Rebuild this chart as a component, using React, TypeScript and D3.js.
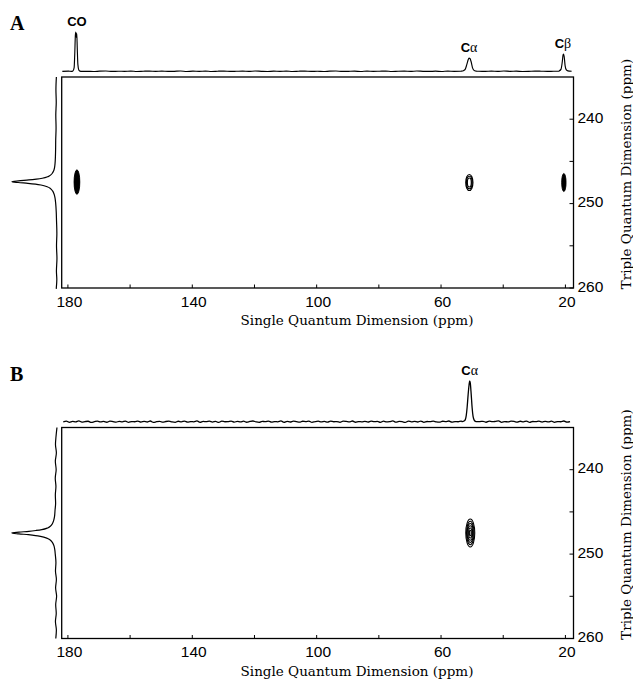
import React from "react";
import * as d3 from "d3";

// ---------- axes ----------
const sqTicks = [180, 160, 140, 120, 100, 80, 60, 40, 20];
const sqTickLabels = [180, 140, 100, 60, 20];
const tqTicks = [240, 245, 250, 255, 260];
const tqTickLabels = [240, 250, 260];
const sqDomain: [number, number] = [182, 17.4];
const tqDomain: [number, number] = [235, 260];

// ---------- top projection A ----------
// baseline samples on a 2 ppm grid starting at 181.8 ppm
const topNoiseStartA = 181.8;
const topNoiseStepA = 2;
const topNoiseA = [
  0.3, 0.9, 0.1, 1.1, 0.5, 0.0, 0.8, 1.2, 0.2, 0.7, 0.4, 1.0, 0.0, 0.6, 1.1, 0.3, 0.9, 0.2, 0.5, 1.2,
  0.1, 0.8, 0.4, 1.0, 0.0, 0.7, 1.1, 0.3, 0.6, 0.9, 0.2, 1.2, 0.5, 0.0, 0.8, 0.4, 1.0, 0.1, 0.7, 1.1,
  0.3, 0.6, 0.0, 0.9, 1.2, 0.2, 0.5, 0.8, 0.1, 1.0, 0.4, 0.7, 1.1, 0.0, 0.6, 0.9, 0.3, 1.2, 0.5, 0.2,
  0.8, 0.1, 1.0, 0.4, 0.7, 0.0, 1.1, 0.6, 0.3, 0.9, 0.2, 1.2, 0.5, 0.8, 0.1, 0.4, 1.0, 0.7, 0.3, 0.6,
  0.2, 0.5,
];
// peaks: [ppm, intensity]
const topPeaksA: [number, number][] = [
  [178.9, 0.4], [178.4, 1.5], [178.0, 10], [177.8, 45], [177.6, 92], [177.45, 100], [177.3, 86],
  [177.15, 96], [177.0, 60], [176.8, 18], [176.5, 4], [176.1, 1], [175.6, 0.4],
  [53.4, 0.8], [52.8, 2], [52.2, 6], [51.7, 18], [51.3, 29], [51.0, 34], [50.7, 33], [50.3, 24],
  [49.9, 10], [49.4, 3], [48.8, 1], [48.4, 0.6],
  [22.4, 0.7], [22.0, 1.5], [21.4, 6], [21.0, 25], [20.75, 42], [20.6, 44], [20.4, 38], [20.1, 15],
  [19.7, 4], [19.2, 1.5], [18.6, 1], [18.0, 0.5],
];

// ---------- top projection B ----------
// baseline samples on a 1 ppm grid starting at 181.5 ppm
const topNoiseStartB = 181.5;
const topNoiseStepB = 1;
const topNoiseB = [
  0.5, 2.1, -0.8, 1.4, 0.2, 2.6, -0.3, 1.0, 1.9, -1.1, 0.7, 2.3, 0.1, 1.5, -0.6, 2.0, 0.9, -0.4, 1.7, 0.3,
  2.4, -0.9, 1.2, 0.6, 2.2, -0.2, 1.6, 0.0, 2.5, -1.0, 0.8, 1.8, -0.5, 1.3, 2.1, 0.2, -0.7, 1.9, 0.5, 2.3,
  -0.3, 1.1, 0.4, 2.6, -0.8, 1.5, 0.9, 2.0, -0.1, 1.4, -1.2, 2.2, 0.6, 1.0, 2.4, -0.4, 1.7, 0.1, 2.0, -0.6,
  1.3, 2.5, 0.3, -0.9, 1.8, 0.7, 2.1, -0.2, 1.2, 0.5, 2.6, -0.7, 1.6, 0.0, 2.3, 0.8, -0.5, 1.9, 1.1, 2.2,
  -1.0, 0.9, 2.0, 0.2, 1.5, -0.3, 2.4, 0.6, 1.0, -0.8, 2.1, 1.4, 0.1, 2.5, -0.6, 1.2, 0.4, 1.8, -0.2, 2.3,
  0.7, 1.6, -0.9, 2.0, 0.3, 1.1, 2.6, -0.4, 1.4, 0.8, -1.1, 2.2, 0.5, 1.7, 0.0, 2.4, -0.7, 1.3, 0.9, 2.1,
  0.2, -0.5, 1.9, 1.0, 2.5, -0.3, 1.2, 0.6, 2.0, -0.9, 1.5, 0.4, 2.3, -0.1, 1.1, 1.8, -0.6, 2.2, 0.7, 1.4,
  2.6, -0.8, 1.0, 0.3, 2.1, 1.5, -0.4, 1.9, 0.5, 2.4, -1.0, 1.3, 0.8, 2.0, -0.2, 1.6,
  0.1, 2.2, -0.7, 1.2, 0.6, 2.5, -0.3, 1.0,
];
const topPeaksB: [number, number][] = [
  [53.2, 1.2], [52.6, 2.5], [52.2, 6], [51.9, 16], [51.6, 38], [51.3, 68], [51.0, 93], [50.8, 104],
  [50.6, 99], [50.3, 70], [50.0, 36], [49.7, 14], [49.3, 4], [48.9, 1.5], [48.6, 0.8],
];

// ---------- left (triple quantum) projections: [ppm, intensity] ----------
const leftSpectrumA: [number, number][] = [
  [235, 0.5], [236.5, 1.5], [238, 0.8], [239.5, 1.8], [241, 1.2], [242.5, 2.0], [243.5, 2.2], [244.4, 2.6],
  [245.2, 3.4], [245.7, 4.5], [246.1, 6.5], [246.4, 9.5], [246.6, 13], [246.8, 19], [247.0, 32], [247.1, 45],
  [247.2, 62], [247.3, 85], [247.4, 100], [247.5, 86], [247.6, 64], [247.7, 47], [247.8, 35], [248.0, 21],
  [248.2, 14], [248.5, 9], [248.9, 5.5], [249.4, 3.3], [250, 2], [251, 0.8], [252, 0.2], [253.5, -0.6],
  [255, 0.2], [256.5, -0.8], [258, 0.4], [259, -0.5], [260.1, 0.8],
];
const leftSpectrumB: [number, number][] = [
  [235, -0.8], [236, 1.2], [237, 2.5], [238, 0.5], [239, 2.8], [240, 1], [241, 3], [242, 1.5], [243, 2.8],
  [244, 2.2], [244.8, 3.5], [245.5, 4.5], [246, 6.5], [246.4, 9.5], [246.7, 14], [246.9, 20], [247.1, 33],
  [247.2, 46], [247.3, 62], [247.4, 84], [247.5, 100], [247.6, 84], [247.7, 63], [247.8, 47], [247.9, 36],
  [248.1, 22], [248.3, 15], [248.6, 9.5], [249, 6], [249.5, 4], [250, 3], [251, 1.5], [252, 2.5], [253, 0.5],
  [254, 2.2], [255, 0], [256, 2], [257, 0.8], [258, 2.6], [259, 0.5], [260, 1.8],
];

// ---------- 2D cross peaks ----------
type Contour = {
  sq: number;
  tq: number;
  rx: number;
  ry: number;
  levels: number[];
  filled: boolean;
  weight: number;
};
const contoursA: Contour[] = [
  { sq: 177.1, tq: 247.45, rx: 0.92, ry: 1.45, levels: [1, 0.8, 0.6, 0.4, 0.2], filled: true, weight: 0.9 },
  { sq: 50.9, tq: 247.5, rx: 1.15, ry: 0.95, levels: [1, 0.78, 0.56], filled: false, weight: 1.2 },
  { sq: 20.5, tq: 247.5, rx: 0.7, ry: 1.07, levels: [1, 0.65, 0.3], filled: true, weight: 0.9 },
];
const contoursB: Contour[] = [
  { sq: 50.6, tq: 247.5, rx: 1.45, ry: 1.65, levels: [1, 0.84, 0.68, 0.52, 0.36, 0.2], filled: false, weight: 1.05 },
];

type PeakLabel = { ppm: number; intensity: number; main: string; greek: string };
const labelsA: PeakLabel[] = [
  { ppm: 177.1, intensity: 100, main: "CO", greek: "" },
  { ppm: 51.0, intensity: 34, main: "C", greek: "α" },
  { ppm: 20.8, intensity: 44, main: "C", greek: "β" },
];
const labelsB: PeakLabel[] = [{ ppm: 50.8, intensity: 104, main: "C", greek: "α" }];

const SANS = "'Liberation Sans', Arial, Helvetica, sans-serif";
const SERIF = "'DejaVu Serif', serif";

function buildSpectrum(
  noise: number[],
  start: number,
  step: number,
  peaks: [number, number][],
  gaps: [number, number][]
): [number, number][] {
  const base: [number, number][] = noise
    .map((v, i) => [start - i * step, v] as [number, number])
    .filter(([p]) => !gaps.some(([hi, lo]) => p <= hi && p >= lo));
  return [...base, ...peaks].sort((a, b) => b[0] - a[0]);
}

const topSpectrumA = buildSpectrum(topNoiseA, topNoiseStartA, topNoiseStepA, topPeaksA, [
  [179.0, 175.5],
  [53.5, 48.3],
  [22.5, 17.0],
]);
const topSpectrumB = buildSpectrum(topNoiseB, topNoiseStartB, topNoiseStepB, topPeaksB, [[53.4, 48.5]]);

type PanelProps = {
  top: number; // top of the 2D box
  letter: string;
  topSpec: [number, number][];
  leftSpec: [number, number][];
  contours: Contour[];
  labels: PeakLabel[];
  topWeight: number;
};

function Panel({ top, letter, topSpec, leftSpec, contours, labels, topWeight }: PanelProps) {
  const boxH = 211;
  const x = d3.scaleLinear().domain(sqDomain).range([61.7, 573.5]);
  const y = d3.scaleLinear().domain(tqDomain).range([top, top + boxH]);
  const left = x.range()[0];
  const right = x.range()[1];
  const bottom = top + boxH;

  const topBase = top - 5.5;
  const yTop = d3.scaleLinear().domain([0, 100]).range([topBase, topBase - 39.5]);
  const xLeft = d3.scaleLinear().domain([0, 100]).range([56.6, 11.8]);

  const topLine = d3
    .line<[number, number]>()
    .x((d) => x(d[0]))
    .y((d) => yTop(d[1]))
    .curve(d3.curveMonotoneX);
  const leftLine = d3
    .line<[number, number]>()
    .x((d) => xLeft(d[1]))
    .y((d) => y(d[0]))
    .curve(d3.curveMonotoneY);

  return (
    <g>
      <text x={10} y={top - 47} fontFamily="'Liberation Serif', 'Times New Roman', serif" fontWeight="bold" fontSize={20}>
        {letter}
      </text>
      {/* projections */}
      <path d={topLine(topSpec) || ""} fill="none" stroke="#000" strokeWidth={topWeight} strokeLinejoin="round" />
      <path d={leftLine(leftSpec) || ""} fill="none" stroke="#000" strokeWidth={1.2} />
      {labels.map((l, i) => {
        const cx = x(l.ppm);
        const by = yTop(l.intensity) - 6;
        return (
          <text key={i} x={cx} y={by} textAnchor="middle" fontSize={13}>
            <tspan fontFamily={SANS} fontWeight="bold">{l.main}</tspan>
            {l.greek && (
              <tspan fontFamily="'Liberation Serif', serif" fontSize={14}>{l.greek}</tspan>
            )}
          </text>
        );
      })}
      {/* box */}
      <rect x={left} y={top} width={right - left} height={boxH} fill="none" stroke="#000" strokeWidth={1.3} />
      {/* contours */}
      {contours.map((c, i) => (
        <g key={i}>
          {c.levels.map((lv, j) => (
            <ellipse
              key={j}
              cx={x(c.sq)}
              cy={y(c.tq)}
              rx={Math.abs(x(c.sq + c.rx * lv) - x(c.sq))}
              ry={Math.abs(y(c.tq + c.ry * lv) - y(c.tq))}
              fill={c.filled && j === 0 ? "#000" : "none"}
              stroke="#000"
              strokeWidth={c.weight}
            />
          ))}
        </g>
      ))}
      {/* bottom ticks */}
      {sqTicks.map((t) => (
        <line key={t} x1={x(t)} x2={x(t)} y1={bottom} y2={bottom - 3.5} stroke="#000" strokeWidth={1} />
      ))}
      {sqTickLabels.map((t) => (
        <text key={t} x={x(t) + 1.5} y={bottom + 18.5} textAnchor="middle" fontFamily={SANS} fontSize={15.5}>
          {t}
        </text>
      ))}
      {/* right ticks */}
      {tqTicks.map((t) => (
        <line key={t} x1={right} x2={right - 4} y1={y(t)} y2={y(t)} stroke="#000" strokeWidth={1} />
      ))}
      {tqTickLabels.map((t) => (
        <text key={t} x={right + 4} y={y(t) + 3.5} fontFamily={SANS} fontSize={15.5}>
          {t}
        </text>
      ))}
      {/* axis titles */}
      <text x={357} y={bottom + 37} textAnchor="middle" fontFamily={SERIF} fontSize={13.5}>
        Single Quantum Dimension (ppm)
      </text>
      <text
        transform={`translate(631, ${top + 97}) rotate(-90)`}
        textAnchor="middle"
        fontFamily={SERIF}
        fontSize={13.5}
      >
        Triple Quantum Dimension (ppm)
      </text>
    </g>
  );
}

export default function App() {
  return (
    <svg
      width={633}
      height={680}
      style={{ position: "absolute", left: 0, top: 0, background: "#fff" }}
      xmlns="http://www.w3.org/2000/svg"
    >
      <rect width={633} height={680} fill="#fff" />
      <Panel top={77} letter="A" topSpec={topSpectrumA} leftSpec={leftSpectrumA} contours={contoursA} labels={labelsA} topWeight={1.15} />
      <Panel top={427.5} letter="B" topSpec={topSpectrumB} leftSpec={leftSpectrumB} contours={contoursB} labels={labelsB} topWeight={1.3} />
    </svg>
  );
}
